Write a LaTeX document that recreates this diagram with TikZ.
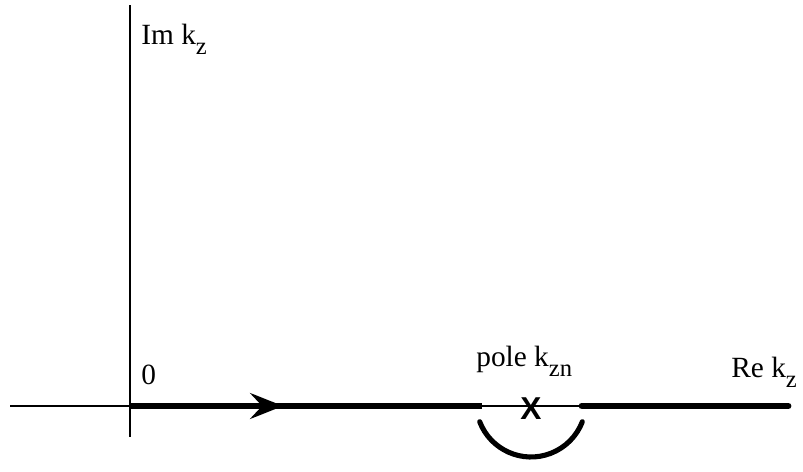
\documentclass[tikz,border=0pt]{standalone}
\usepackage{fontspec}
\setmainfont{Liberation Serif}
\newfontfamily\markfont{Liberation Sans}
\usetikzlibrary{arrows.meta}
\newcommand{\lowsub}[1]{\raisebox{-5.5pt}{\fontsize{14}{14}\selectfont #1}}
\tikzset{
  axisline/.style={line width=1.6pt},
  contour/.style={line width=3.9pt},
  indent/.style={line width=2.9pt, line cap=round},
  flow/.style={-{Stealth[length=18.7pt, width=14.7pt, inset=6.8pt]},
               line width=3.9pt},
  lab/.style={anchor=base west, inner sep=0pt,
              font=\fontsize{16.7}{20}\selectfont},
  polemark/.style={inner sep=0pt,
                   font=\markfont\bfseries\fontsize{18}{20}\selectfont},
}
\begin{document}
\begin{tikzpicture}[x=0.02cm, y=0.02cm]
\useasboundingbox (0,0) rectangle (803,472);

% axes
\coordinate (O) at (130,66);
\coordinate (yb) at (130,35);
\coordinate (yt) at (130,467);
\coordinate (xl) at (10,66);
\coordinate (xr) at (788,66);
\draw[axisline] (yb) -- (yt);
\draw[axisline] (xl) -- (xr);

% contour along the real axis
\coordinate (gl) at (482,66);
\coordinate (gr) at (582,66);
\coordinate (tip) at (283,66);
\draw[contour] (O) -- (gl);
\draw[contour, line cap=round] (gr) -- (xr);
\draw[flow] (O) -- (tip);

% pole and indentation
\node[polemark] (pole) at (531,63.5) {X};
\coordinate (c) at (531,70);
\draw[indent] ([shift={(-159:1.1cm)}]c) arc[start angle=-159, end angle=-21,
  radius=1.1cm];

% labels
\node[lab] (im) at (141,427) {Im k\lowsub{z}};
\node[lab] (zero) at (141,87) {0};
\node[lab] (polelab) at (476,105) {pole k\lowsub{zn}};
\node[lab] (re) at (731,94) {Re k\lowsub{z}};

\end{tikzpicture}
\end{document}
